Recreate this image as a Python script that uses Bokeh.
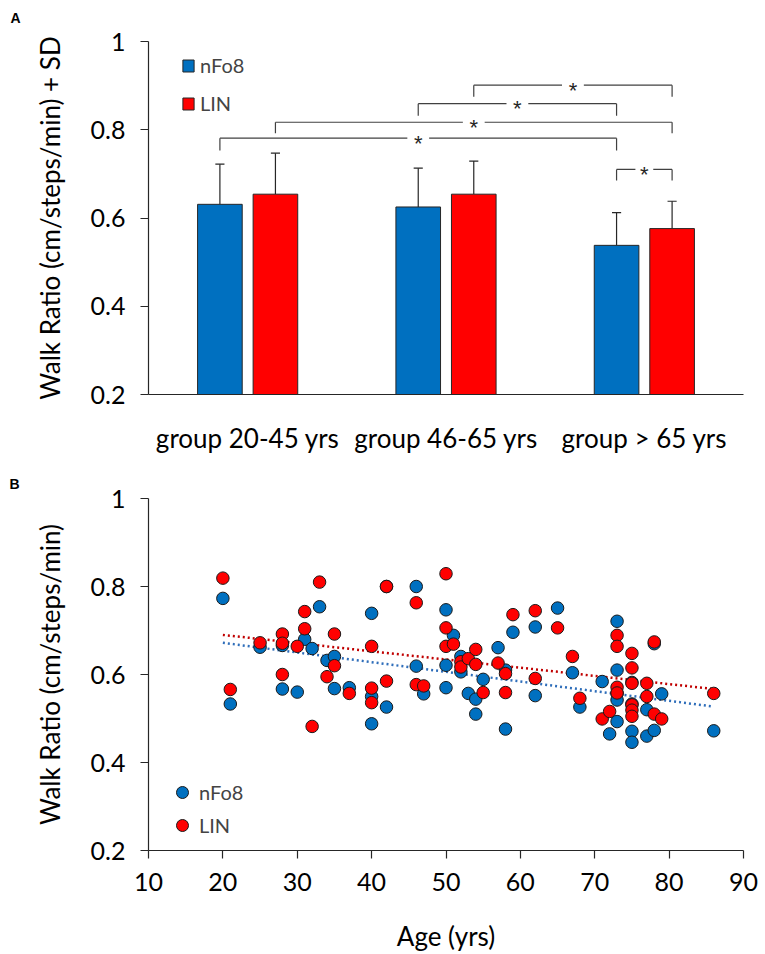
import numpy as np
from bokeh.plotting import figure
from bokeh.models import Legend, LegendItem, Title, FixedTicker, Range1d
from bokeh.layouts import column
from bokeh.embed import file_html
from bokeh.resources import INLINE

# ---------------- data: panel A ----------------
categories = ["group 20-45 yrs", "group 46-65 yrs", "group > 65 yrs"]
series_names = ["nFo8", "LIN"]
mean_nfo8 = [0.631, 0.625, 0.538]
sd_nfo8 = [0.091, 0.088, 0.074]
mean_lin = [0.654, 0.654, 0.576]
sd_lin = [0.093, 0.075, 0.062]
y_ticks = [0.2, 0.4, 0.6, 0.8, 1.0]
y_tick_labels = ["0.2", "0.4", "0.6", "0.8", "1"]

# significance brackets (group index, series index 0=nFo8 1=LIN)
br_from_group = [1, 1, 0, 0, 2]
br_from_series = [1, 0, 1, 0, 0]
br_to_group = [2, 2, 2, 2, 2]
br_to_series = [1, 0, 1, 0, 1]
br_level = [0.901, 0.859, 0.817, 0.781, 0.710]
br_drop = [0.875, 0.832, 0.792, 0.753, 0.685]
br_text = ["*", "*", "*", "*", "*"]

# ---------------- data: panel B ----------------
age_nfo8 = [20, 21, 25, 28, 28, 30, 31, 32, 33, 34, 35, 35, 37, 40, 40, 40, 42, 42, 46, 46,
            47, 50, 50, 50, 51, 52, 52, 53, 54, 54, 55, 57, 58, 58, 59, 62, 62, 65, 67, 68,
            71, 72, 73, 73, 73, 73, 73, 75, 75, 75, 75, 77, 77, 78, 78, 79, 86]
wr_nfo8 = [0.773, 0.533, 0.662, 0.666, 0.567, 0.560, 0.680, 0.659, 0.754, 0.632, 0.641, 0.568,
           0.570, 0.739, 0.550, 0.488, 0.800, 0.526, 0.800, 0.619, 0.556, 0.747, 0.621, 0.570,
           0.689, 0.641, 0.606, 0.557, 0.544, 0.510, 0.589, 0.661, 0.610, 0.476, 0.696, 0.708,
           0.552, 0.751, 0.604, 0.526, 0.584, 0.465, 0.721, 0.610, 0.557, 0.542, 0.493, 0.582,
           0.533, 0.471, 0.446, 0.520, 0.460, 0.670, 0.473, 0.556, 0.472]
age_lin = [20, 21, 25, 28, 28, 28, 30, 31, 31, 32, 33, 34, 35, 35, 37, 40, 40, 40, 42, 42,
           46, 46, 47, 50, 50, 50, 51, 52, 52, 53, 54, 54, 55, 57, 58, 58, 59, 62, 62, 65,
           67, 68, 71, 72, 73, 73, 73, 73, 75, 75, 75, 75, 75, 75, 77, 77, 78, 78, 79, 86]
wr_lin = [0.819, 0.566, 0.672, 0.692, 0.671, 0.600, 0.664, 0.743, 0.704, 0.482, 0.810, 0.595,
          0.692, 0.620, 0.557, 0.664, 0.569, 0.536, 0.800, 0.585, 0.763, 0.577, 0.574, 0.829,
          0.706, 0.664, 0.669, 0.629, 0.617, 0.636, 0.657, 0.623, 0.559, 0.626, 0.602, 0.559,
          0.736, 0.745, 0.591, 0.706, 0.641, 0.546, 0.499, 0.516, 0.689, 0.664, 0.571, 0.558,
          0.648, 0.615, 0.580, 0.531, 0.519, 0.505, 0.580, 0.550, 0.674, 0.510, 0.499, 0.557]
trend_age = [20, 86]
trend_nfo8 = [0.672, 0.527]
trend_lin = [0.690, 0.567]
x_ticks_b = [10, 20, 30, 40, 50, 60, 70, 80, 90]
panel_letters = ["A", "B"]

# ---------------- styling ----------------
BLUE = "#0070C0"
RED = "#FF0000"
TREND_BLUE = "#2F6EBA"
TREND_RED = "#C00000"
DARK = "#262626"
FONT = "Lato"
HAS_STANDOFF = "standoff" in Title.properties()

def style_axes(p):
    p.outline_line_color = None
    p.xgrid.visible = False
    p.ygrid.visible = False
    p.background_fill_color = "white"
    p.border_fill_color = "white"
    for ax in (p.xaxis[0], p.yaxis[0]):
        ax.axis_line_color = DARK
        ax.axis_line_width = 1.2
        ax.major_tick_line_color = DARK
        ax.major_tick_line_width = 1.2
        ax.minor_tick_line_color = None
        ax.major_tick_in = 0
        ax.major_tick_out = 8
        ax.major_label_text_font = FONT
        ax.major_label_text_font_size = "25px"
        ax.major_label_text_color = "black"
        ax.axis_label_text_font = FONT
        ax.axis_label_text_font_size = "26px"
        ax.axis_label_text_font_style = "normal"
        ax.axis_label_text_color = "black"
    p.yaxis[0].ticker = FixedTicker(ticks=y_ticks)
    p.yaxis[0].major_label_overrides = dict(zip(y_ticks, y_tick_labels))
    p.yaxis[0].major_label_standoff = 15
    p.yaxis[0].axis_label_standoff = 22

def panel_title(p, letter, frame_left, standoff, valign):
    t = Title(text=letter, align="left", offset=-(frame_left - 9), vertical_align=valign,
              text_font="Liberation Sans", text_font_style="bold",
              text_font_size="14px", text_color="black", text_line_height=1.0)
    if HAS_STANDOFF:
        t.standoff = standoff
    p.title = t

# ================= Panel A =================
pA = figure(width=765, height=460, x_range=Range1d(0, 3), y_range=Range1d(0.2, 1.0),
            output_backend="svg", toolbar_location=None,
            min_border_left=147, min_border_right=20, min_border_top=41, min_border_bottom=66)
style_axes(pA)
# trailing empty line lifts the letter above the frame
panel_title(pA, panel_letters[0] + "\n", 147, 0, "bottom")
pA.yaxis[0].axis_label = "Walk Ratio (cm/steps/min) + SD"
cat_pos = [i + 0.5 for i in range(len(categories))]
pA.xaxis[0].ticker = FixedTicker(ticks=cat_pos)
pA.xaxis[0].major_label_overrides = dict(zip(cat_pos, categories))
pA.xaxis[0].major_tick_line_color = None
pA.xaxis[0].major_tick_out = 0
pA.xaxis[0].major_label_standoff = 27
pA.xaxis[0].major_label_text_font_size = "26px"

OFF = 0.14
BW = 0.225
CAP = 0.023
offsets = [-OFF, OFF]
x_nfo8 = [c + offsets[0] for c in cat_pos]
x_lin = [c + offsets[1] for c in cat_pos]

# error bars (upper only)
for xs, m, s in ((x_nfo8, mean_nfo8, sd_nfo8), (x_lin, mean_lin, sd_lin)):
    tops = [a + b for a, b in zip(m, s)]
    pA.segment(x0=xs, y0=m, x1=xs, y1=tops, line_color=DARK, line_width=1.2)
    pA.segment(x0=[x - CAP for x in xs], y0=tops, x1=[x + CAP for x in xs], y1=tops,
               line_color=DARK, line_width=1.2)

r_b = pA.vbar(x=x_nfo8, top=mean_nfo8, bottom=0.2, width=BW, fill_color=BLUE,
              line_color=DARK, line_width=1)
r_r = pA.vbar(x=x_lin, top=mean_lin, bottom=0.2, width=BW, fill_color=RED,
              line_color=DARK, line_width=1)

# significance brackets
GAP = 0.055
hx0, hx1, hy = [], [], []
vx, vy0, vy1 = [], [], []
sx, sy = [], []
for fg, fs, tg, ts, lv, dp in zip(br_from_group, br_from_series, br_to_group, br_to_series,
                                   br_level, br_drop):
    a = cat_pos[fg] + offsets[fs]
    b = cat_pos[tg] + offsets[ts]
    mid = (a + b) / 2
    g = GAP if (b - a) > 0.5 else 0.045
    hx0 += [a, mid + g]
    hx1 += [mid - g, b]
    hy += [lv, lv]
    vx += [a, b]
    vy0 += [lv, lv]
    vy1 += [dp, dp]
    sx.append(mid)
    sy.append(lv)
pA.segment(x0=hx0, y0=hy, x1=hx1, y1=hy, line_color="#404040", line_width=1.2)
pA.segment(x0=vx, y0=vy0, x1=vx, y1=vy1, line_color="#404040", line_width=1.2)
pA.text(x=sx, y=sy, text=br_text, text_align="center", text_baseline="middle",
        text_font_size="22px", text_color="#262626", y_offset=5)

legA = Legend(items=[LegendItem(label=series_names[0], renderers=[r_b]),
                     LegendItem(label=series_names[1], renderers=[r_r])],
              location=(33, 279), orientation="vertical",
              glyph_width=14, glyph_height=15, label_height=20, spacing=14,
              label_standoff=5, padding=0, margin=0,
              border_line_color=None, background_fill_alpha=0,
              label_text_font=FONT, label_text_font_size="20px")
pA.add_layout(legA)

# ================= Panel B =================
pB = figure(width=765, height=494, x_range=Range1d(10, 90), y_range=Range1d(0.2, 1.0),
            output_backend="svg", toolbar_location=None,
            min_border_left=148, min_border_right=22, min_border_top=38, min_border_bottom=102)
style_axes(pB)
panel_title(pB, panel_letters[1], 148, 10, "top")
pB.yaxis[0].axis_label = "Walk Ratio (cm/steps/min)"
pB.xaxis[0].axis_label = "Age (yrs)"
pB.xaxis[0].ticker = FixedTicker(ticks=x_ticks_b)
pB.xaxis[0].major_label_standoff = 14
pB.xaxis[0].axis_label_standoff = 26

pB.line(x=trend_age, y=trend_lin, line_color=TREND_RED, line_width=2.5, line_dash="2 3")
pB.line(x=trend_age, y=trend_nfo8, line_color=TREND_BLUE, line_width=2.5, line_dash="2 3")
s_b = pB.scatter(x=age_nfo8, y=wr_nfo8, size=12.5, marker="circle", fill_color=BLUE,
                 line_color="#1a1a1a", line_width=1)
s_r = pB.scatter(x=age_lin, y=wr_lin, size=12.5, marker="circle", fill_color=RED,
                 line_color="#1a1a1a", line_width=1)

legB = Legend(items=[LegendItem(label=series_names[0], renderers=[s_b]),
                     LegendItem(label=series_names[1], renderers=[s_r])],
              location=(19, 10), orientation="vertical",
              glyph_width=30, glyph_height=30, label_height=30, spacing=3,
              label_standoff=2, padding=0, margin=0,
              border_line_color=None, background_fill_alpha=0,
              label_text_font=FONT, label_text_font_size="20px")
pB.add_layout(legB)

layout = column(pA, pB, spacing=0)
open("out.html", "w").write(file_html(layout, INLINE))
